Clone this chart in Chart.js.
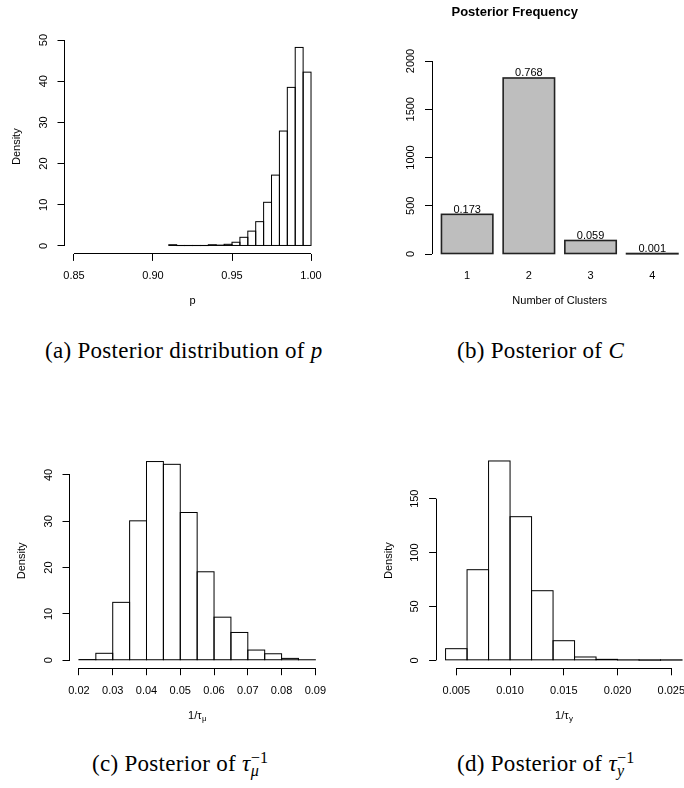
<!DOCTYPE html>
<html>
<head>
<meta charset="utf-8">
<title>Posterior summaries</title>
<script src="https://cdn.jsdelivr.net/npm/chart.js@4.4.1/dist/chart.umd.min.js"></script>
<style>
  html, body { margin: 0; padding: 0; background: #fff; }
  body { position: relative; width: 684px; height: 788px; overflow: hidden; }
  canvas { position: absolute; }
  .cap { position: absolute; font-family: "Liberation Serif", "Times New Roman", serif; font-size: 23px;
         letter-spacing: 0.3px; line-height: 1; white-space: nowrap; color: #000; }
  .ss { position: relative; display: inline-block; }
  .ss .sup { font-size: 0.7em; position: relative; top: -8.3px; }
  .ss .sub { font-size: 0.7em; position: absolute; left: 0; top: 10.6px; }
</style>
</head>
<body>
<canvas id="chartP" width="342" height="330" style="left:0;top:0"></canvas>
<canvas id="chartC" width="436" height="330" style="left:342px;top:0"></canvas>
<canvas id="chartMu" width="342" height="370" style="left:0;top:370px"></canvas>
<canvas id="chartY" width="370" height="370" style="left:342px;top:370px"></canvas>

<div class="cap" style="left:45px;top:339px">(a) Posterior distribution of <i>p</i></div>
<div class="cap" style="left:457px;top:339px">(b) Posterior of <i>C</i></div>
<div class="cap" style="left:92px;top:752px">(c) Posterior of <i>τ</i><span class="ss"><span class="sup">−1</span><span class="sub"><i>μ</i></span></span></div>
<div class="cap" style="left:457px;top:752px">(d) Posterior of <i>τ</i><span class="ss"><span class="sup">−1</span><span class="sub"><i>y</i></span></span></div>

<script>
// (a) posterior of p, histogram, bins of 0.005 from 0.91
const pBreakStart = 0.91;
const pBinWidth = 0.005;
const pDensity = [0.3, 0.1, 0.1, 0.1, 0.1, 0.3, 0.2, 0.4, 0.9, 2.1, 3.6, 5.9, 10.6, 17.2, 27.9, 38.5, 48.2, 42.2];
const pTicks = [0.85, 0.90, 0.95, 1.00];
const pTickLabels = ["0.85", "0.90", "0.95", "1.00"];
const pDensityTicks = [0, 10, 20, 30, 40, 50];

// (b) number of clusters
const clusterLabels = ["1", "2", "3", "4"];
const clusterCounts = [411, 1824, 140, 2];
const clusterProps = ["0.173", "0.768", "0.059", "0.001"];
const countTicks = [0, 500, 1000, 1500, 2000];

// (c) 1/tau_mu, bins of 0.005 from 0.02
const muBreakStart = 0.02;
const muBinWidth = 0.005;
const muDensity = [0.15, 1.5, 12.5, 30.1, 42.9, 42.3, 31.9, 19.1, 9.3, 6.0, 2.2, 1.4, 0.4, 0.1];
const muTicks = [0.02, 0.03, 0.04, 0.05, 0.06, 0.07, 0.08, 0.09];
const muTickLabels = ["0.02", "0.03", "0.04", "0.05", "0.06", "0.07", "0.08", "0.09"];
const muDensityTicks = [0, 10, 20, 30, 40];

// (d) 1/tau_y, bins of 0.002 from 0.004
const yBreakStart = 0.004;
const yBinWidth = 0.002;
const yDensity = [10.8, 84.1, 185.0, 133.3, 64.6, 18.2, 3.1, 0.9, 0.3, 0.1, 0.2];
const yTicks = [0.005, 0.010, 0.015, 0.020, 0.025];
const yTickLabels = ["0.005", "0.010", "0.015", "0.020", "0.025"];
const yDensityTicks = [0, 50, 100, 150];

const FONT = '"Liberation Sans", Arial, sans-serif';
Chart.defaults.font.family = FONT;
Chart.defaults.font.size = 11;
Chart.defaults.color = "#000";
Chart.defaults.animation = false;
Chart.defaults.responsive = false;
Chart.defaults.devicePixelRatio = 1;
Chart.defaults.plugins.legend.display = false;
Chart.defaults.plugins.tooltip.enabled = false;

// R style axes: line only between first and last tick, y labels turned
const rAxes = {
  id: "rAxes",
  afterDraw(chart, args, opts) {
    const { ctx, chartArea } = chart;
    const xs = chart.scales.x, ys = chart.scales.y;
    const align = p => Math.round(p - 0.5) + 0.5;
    const yt = ys.ticks;
    ctx.save();
    ctx.strokeStyle = "#000";
    ctx.lineWidth = 1;
    ctx.beginPath();
    const ax = align(chartArea.left);
    ctx.moveTo(ax, ys.getPixelForValue(yt[0].value));
    ctx.lineTo(ax, ys.getPixelForValue(yt[yt.length - 1].value));
    if (opts.xLine) {
      const xt = xs.ticks, ay = align(chartArea.bottom);
      ctx.moveTo(xs.getPixelForValue(xt[0].value), ay);
      ctx.lineTo(xs.getPixelForValue(xt[xt.length - 1].value), ay);
    }
    ctx.stroke();

    ctx.fillStyle = "#000";
    ctx.font = "11px " + FONT;
    ctx.textAlign = "center";
    ctx.textBaseline = "middle";
    yt.forEach(t => {
      ctx.save();
      ctx.translate(chartArea.left - 21, ys.getPixelForValue(t.value));
      ctx.rotate(-Math.PI / 2);
      ctx.fillText(t.label, 0, 0);
      ctx.restore();
    });

    // x title with a subscript (1/tau_mu, 1/tau_y)
    if (opts.subTitle) {
      const main = opts.subTitle[0], sub = opts.subTitle[1];
      ctx.textAlign = "left";
      ctx.textBaseline = "alphabetic";
      ctx.font = "11px " + FONT;
      const w1 = ctx.measureText(main).width;
      ctx.font = "8px " + FONT;
      const w2 = ctx.measureText(sub).width;
      const x0 = (chartArea.left + chartArea.right) / 2 - (w1 + w2) / 2;
      const y0 = chartArea.bottom + 50.5;
      ctx.font = "11px " + FONT;
      ctx.fillText(main, x0, y0);
      ctx.font = "8px " + FONT;
      ctx.fillText(sub, x0 + w1 + 0.5, y0 + 2.5);
    }
    ctx.restore();
  }
};

// outline each bar like R's rect(), plus optional text above bars
const outline = {
  id: "outline",
  afterDatasetsDraw(chart, args, opts) {
    const { ctx } = chart;
    const bars = chart.getDatasetMeta(0).data;
    ctx.save();
    ctx.strokeStyle = opts.color || "#000";
    ctx.lineWidth = opts.width || 1;
    bars.forEach(b => {
      const { x, y, base, width } = b.getProps(["x", "y", "base", "width"], true);
      ctx.strokeRect(x - width / 2, Math.min(y, base), width, Math.abs(base - y));
    });
    if (opts.labels) {
      ctx.fillStyle = "#000";
      ctx.font = "11px " + FONT;
      ctx.textAlign = "center";
      ctx.textBaseline = "alphabetic";
      bars.forEach((b, i) => ctx.fillText(opts.labels[i], b.x, b.y - 1.5));
    }
    ctx.restore();
  }
};

function xScale(o) {
  return {
    type: "linear", min: o.min, max: o.max, bounds: "data", offset: false,
    afterBuildTicks: a => { a.ticks = o.ticks.map(v => ({ value: v })); },
    afterFit: a => { a.height = o.height; },
    ticks: { autoSkip: false, maxRotation: 0, minRotation: 0, padding: o.tickPad, color: "#000",
             callback: (v, i) => o.labels[i] },
    grid: { display: o.tickLen > 0, offset: false, drawOnChartArea: false, drawTicks: o.tickLen > 0,
            tickLength: o.tickLen, color: "#000", tickColor: "#000", lineWidth: 1 },
    border: { display: false },
    title: o.title ? { display: true, text: o.title, color: "#000", padding: { top: 0, bottom: 22.8 } }
                   : { display: false }
  };
}

function yScale(o) {
  return {
    type: "linear", min: o.min, max: o.max, bounds: "data",
    afterBuildTicks: a => { a.ticks = o.ticks.map(v => ({ value: v })); },
    afterFit: a => { a.width = o.width; },
    ticks: { display: false, autoSkip: false, callback: v => String(v) },
    grid: { drawOnChartArea: false, drawTicks: true, tickLength: 7, color: "#000", tickColor: "#000", lineWidth: 1 },
    border: { display: false },
    title: o.title ? { display: true, text: o.title, color: "#000", padding: { top: o.titlePad, bottom: 0 } }
                   : { display: false }
  };
}

function histChart(id, h) {
  const pts = h.density.map((d, i) => ({ x: h.start + h.bin * (i + 0.5), y: d }));
  return new Chart(document.getElementById(id), {
    type: "bar",
    data: { datasets: [{ data: pts, backgroundColor: "#fff", borderWidth: 0,
                         barPercentage: 1, categoryPercentage: 1 }] },
    options: {
      layout: { padding: h.pad },
      scales: { x: xScale(h.x), y: yScale(h.y) },
      plugins: {
        rAxes: { xLine: true, subTitle: h.subTitle },
        outline: { color: "#000", width: 1 }
      }
    },
    plugins: [rAxes, outline]
  });
}

histChart("chartP", {
  start: pBreakStart, bin: pBinWidth, density: pDensity,
  pad: { left: 0, top: 39.5, right: 21.5, bottom: 0 },
  x: { min: 0.844, max: 1.006, ticks: pTicks, labels: pTickLabels, height: 76.1, tickPad: 8.8, tickLen: 7, title: "p" },
  y: { min: -1.928, max: 50.128, ticks: pDensityTicks, width: 64.5, title: "Density", titlePad: 10.65 }
});

histChart("chartMu", {
  start: muBreakStart, bin: muBinWidth, density: muDensity,
  pad: { left: 0, top: 83.6, right: 17.2, bottom: 0 },
  x: { min: 0.0172, max: 0.0928, ticks: muTicks, labels: muTickLabels, height: 71.8, tickPad: 8.8, tickLen: 7 },
  y: { min: -1.716, max: 44.616, ticks: muDensityTicks, width: 69.5, title: "Density", titlePad: 15.7 },
  subTitle: ["1/\u03c4", "\u03bc"]
});

histChart("chartY", {
  start: yBreakStart, bin: yBinWidth, density: yDensity,
  pad: { left: 0, top: 83.0, right: 20.5, bottom: 0 },
  x: { min: 0.00312, max: 0.02688, ticks: yTicks, labels: yTickLabels, height: 71.7, tickPad: 8.8, tickLen: 7 },
  y: { min: -7.4, max: 192.4, ticks: yDensityTicks, width: 94.1, title: "Density", titlePad: 40.3 },
  subTitle: ["1/\u03c4", "y"]
});

// (b) barplot: bars of width 1 with 0.2 spacing, as R's barplot places them
const clusterX = clusterLabels.map((_, i) => 0.2 + 1.2 * i + 0.5);
new Chart(document.getElementById("chartC"), {
  type: "bar",
  data: {
    datasets: [{
      data: clusterCounts.map((c, i) => ({ x: clusterX[i], y: c })),
      backgroundColor: "#bebebe", borderWidth: 0,
      barPercentage: 1 / 1.2, categoryPercentage: 1
    }]
  },
  options: {
    layout: { padding: { left: 0, top: 0, right: 90.6, bottom: 0 } },
    scales: {
      x: xScale({ min: 0.016, max: 4.984, ticks: clusterX, labels: clusterLabels, height: 76,
                  tickPad: 15.4, tickLen: 0, title: "Number of Clusters" }),
      y: yScale({ min: 0, max: 2222.8, ticks: countTicks, width: 90 })
    },
    plugins: {
      title: { display: true, text: "Posterior Frequency", color: "#000",
               font: { size: 13, weight: "bold" }, padding: { top: 4.2, bottom: 19.7 } },
      rAxes: { xLine: false },
      outline: { color: "#222", width: 1.6, labels: clusterProps }
    }
  },
  plugins: [rAxes, outline]
});
</script>
</body>
</html>
